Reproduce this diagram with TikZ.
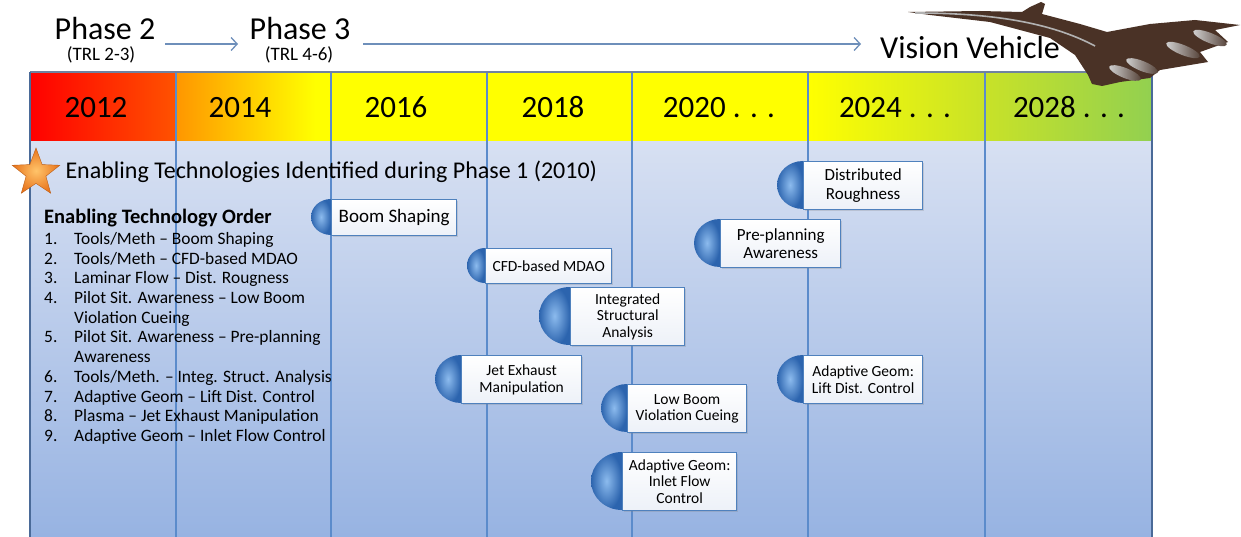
\documentclass[tikz,border=0pt]{standalone}
\usepackage{fontspec}
\setmainfont{Carlito}
\usetikzlibrary{shapes.geometric,shadows,arrows.meta,calc}

\definecolor{frameblue}{HTML}{4A6A98}
\definecolor{framegray}{HTML}{6F82A0}
\definecolor{gridblue}{HTML}{5B8BCB}
\definecolor{bodytop}{HTML}{D7E0F2}
\definecolor{bodybot}{HTML}{97B3E2}
\definecolor{boxblue}{HTML}{4F81BD}
\definecolor{disclight}{HTML}{8CBBEE}
\definecolor{discdark}{HTML}{2C64AE}
\definecolor{arrowblue}{HTML}{6E8FBA}
\definecolor{planebrown}{HTML}{4A3226}
\definecolor{starlight}{HTML}{FFC46A}
\definecolor{stardark}{HTML}{E8741C}
\definecolor{hdrred}{HTML}{FF0000}
\definecolor{hdrredorange}{HTML}{FF5200}
\definecolor{hdrorange}{HTML}{FF9600}
\definecolor{hdryellow}{HTML}{FFFF00}
\definecolor{hdrlime}{HTML}{C8E228}
\definecolor{hdrgreen}{HTML}{92D050}
\definecolor{boxbottom}{HTML}{EDF1F8}

\newcommand\smallfnt{\fontsize{15.5}{16.5}\selectfont}
\newcommand\midfnt{\fontsize{17}{18.5}\selectfont}

\tikzset{
  techbox/.style={draw=boxblue, line width=1.3pt, top color=white, bottom color=boxbottom,
    align=center, inner sep=2pt, anchor=north west, text=black,
    drop shadow={opacity=0.25, shadow xshift=1.5pt, shadow yshift=-1.5pt}},
  techdisc/.style={inner color=disclight, outer color=discdark},
  yearlabel/.style={anchor=base, inner sep=0pt, font=\fontsize{31}{33}\selectfont},
  phaselabel/.style={anchor=base, inner sep=0pt, font=\fontsize{32}{34}\selectfont},
  trllabel/.style={anchor=base, inner sep=0pt, font=\fontsize{19}{21}\selectfont},
  listnum/.style={anchor=west, inner sep=0pt, font=\fontsize{17.4}{19}\selectfont, text height=12pt, text depth=3.5pt},
  gridline/.style={gridblue, line width=1.2pt},
  phasearrow/.style={arrowblue, line width=1.3pt, -{Straight Barb[length=6pt,width=13pt]}},
  engine/.style={ellipse, inner sep=0pt, left color=gray!35, right color=planebrown!80!gray, rotate=-22}
}

% #1 name, #2-#5 box corners (x0,y0,x1,y1), #6 left edge of the disc, #7 font, #8 text
\newcommand\techitem[8]{%
  \pgfmathsetmacro\discrx{#2-#6}%
  \pgfmathsetmacro\discry{(#5-#3)/2}%
  \shade[techdisc] (#2,#3) arc[start angle=90, end angle=270, x radius=\discrx pt, y radius=\discry pt] -- cycle;
  \node[techbox, minimum width={(#4-#2)*1pt}, minimum height={(#5-#3)*1pt}, font=#7] (#1) at (#2,#3) {#8};
}

\begin{document}
\begin{tikzpicture}[x=1pt,y=-1pt]
\useasboundingbox (0,0) rectangle (1241,537);
\fill[white] (0,0) rectangle (1241,537);

% body of the timeline
\shade[top color=bodytop, bottom color=bodybot] (30,141) rectangle (1152,537);

% header band
\shade[left color=hdrred, right color=hdrredorange] (30,72) rectangle (176,141);
\shade[left color=hdrorange, right color=hdryellow] (176,72) rectangle (315,141);
\fill[hdryellow] (315,72) rectangle (808,141);
\shade[left color=hdryellow, right color=hdrlime] (808,72) rectangle (985,141);
\shade[left color=hdrlime, right color=hdrgreen] (985,72) rectangle (1152,141);

% column dividers
\foreach \cx in {176,331,487,632,808,985}
  \draw[gridline] (\cx,72) -- (\cx,537);

% frame
\draw[framegray, line width=2pt] (30,72) -- (1152,72);
\draw[frameblue, line width=2.6pt] (30,537) -- (30,72);
\draw[frameblue, line width=2.6pt] (1152,72) -- (1152,537);

% years
\node[yearlabel] (y2012) at (96,117.5) {2012};
\node[yearlabel] (y2014) at (240,117.5) {2014};
\node[yearlabel] (y2016) at (396,117.5) {2016};
\node[yearlabel] (y2018) at (553,117.5) {2018};
\node[yearlabel] (y2020) at (719,117.5) {2020 . . .};
\node[yearlabel] (y2024) at (895,117.5) {2024 . . .};
\node[yearlabel] (y2028) at (1069,117.5) {2028 . . .};

% phases
\node[phaselabel] (p2) at (105,39.5) {Phase 2};
\node[trllabel] (trl2) at (101,61) {(TRL 2-3)};
\node[phaselabel] (p3) at (300,39.5) {Phase 3};
\node[trllabel] (trl3) at (299,61) {(TRL 4-6)};
\node[phaselabel] (vv) at (970,58.5) {Vision Vehicle};
\coordinate (a1s) at (165,44);
\coordinate (a1e) at (238,44);
\coordinate (a2s) at (363,44);
\coordinate (a2e) at (861,44);
\draw[phasearrow] (a1s) -- (a1e);
\draw[phasearrow] (a2s) -- (a2e);

% vision vehicle aircraft
\fill[planebrown] (908,12) -- (980,11) -- (1022,12) -- (1030,7) -- (1041,2) -- (1045,4)
  -- (1042,14) -- (1080,24) -- (1107,32) -- (1150,24) -- (1195,20) -- (1240,25)
  -- (1215,30) -- (1228,42) -- (1200,52) -- (1208,62) -- (1160,70) -- (1150,78)
  -- (1120,82) -- (1102,86) -- (1092,84) -- (1088,75) -- (1075,55) -- (1050,38)
  -- (990,22) -- (930,15) -- cycle;
\draw[gray!60, line width=1.6pt] (915,13) .. controls (990,13) and (1050,22) .. (1095,46);
\node[engine, minimum width=36pt, minimum height=10pt] (eng1) at (1210,38) {};
\node[engine, minimum width=36pt, minimum height=10pt] (eng2) at (1183,50) {};
\node[engine, minimum width=34pt, minimum height=10pt] (eng3) at (1142,66) {};
\node[engine, minimum width=34pt, minimum height=10pt] (eng4) at (1125,73) {};

% enabling technologies heading
\node[star, star points=5, star point ratio=2.4, minimum size=50pt, inner sep=0pt,
  inner color=starlight, outer color=stardark, draw=stardark!80!black, line width=0.4pt] (star) at (36,173) {};
\node[anchor=west, font=\fontsize{24}{27}\selectfont] (ident) at (62,172)
  {Enabling Technologies Identified during Phase 1 (2010)};

% ordered list
\node[anchor=west, inner sep=0pt, font=\bfseries\fontsize{20.5}{23}\selectfont] (ordhead) at (44,218) {Enabling Technology Order};
\node[listnum] (n1) at (44,240) {1.};
\node[listnum] (t1) at (74,240) {Tools/Meth – Boom Shaping};
\node[listnum] (n2) at (44,260) {2.};
\node[listnum] (t2) at (74,260) {Tools/Meth – CFD-based MDAO};
\node[listnum] (n3) at (44,279.5) {3.};
\node[listnum] (t3) at (74,279.5) {Laminar Flow – Dist. Rougness};
\node[listnum] (n4) at (44,299.3) {4.};
\node[listnum] (t4) at (74,299.3) {Pilot Sit. Awareness – Low Boom};
\node[listnum] (t4b) at (74,318.8) {Violation Cueing};
\node[listnum] (n5) at (44,338.7) {5.};
\node[listnum] (t5) at (74,338.7) {Pilot Sit. Awareness – Pre-planning};
\node[listnum] (t5b) at (74,358.3) {Awareness};
\node[listnum] (n6) at (44,378.3) {6.};
\node[listnum] (t6) at (74,378.3) {Tools/Meth. – Integ. Struct. Analysis};
\node[listnum] (n7) at (44,398) {7.};
\node[listnum] (t7) at (74,398) {Adaptive Geom – Lift Dist. Control};
\node[listnum] (n8) at (44,417.7) {8.};
\node[listnum] (t8) at (74,417.7) {Plasma – Jet Exhaust Manipulation};
\node[listnum] (n9) at (44,437.3) {9.};
\node[listnum] (t9) at (74,437.3) {Adaptive Geom – Inlet Flow Control};

% technology callouts
\techitem{boom}{331}{199}{456}{235}{311}{\fontsize{19}{21}\selectfont}{Boom Shaping}
\techitem{cfd}{485}{248}{611}{283}{467}{\smallfnt}{CFD-based MDAO}
\techitem{isa}{570}{287}{684}{345}{539}{\smallfnt}{Integrated\\Structural\\Analysis}
\techitem{dr}{803}{161}{922}{209}{777}{\midfnt}{Distributed\\Roughness}
\techitem{ppa}{720}{219}{840}{267}{694}{\midfnt}{Pre-planning\\Awareness}
\techitem{ldc}{803}{355}{922}{403}{777}{\smallfnt}{Adaptive Geom:\\Lift Dist. Control}
\techitem{jet}{461}{355}{581}{403}{435}{\smallfnt}{Jet Exhaust\\Manipulation}
\techitem{lbv}{627}{384}{746}{432}{601}{\smallfnt}{Low Boom\\Violation Cueing}
\techitem{ifc}{622}{452}{736}{510}{591}{\smallfnt}{Adaptive Geom:\\Inlet Flow\\Control}

\end{tikzpicture}
\end{document}
